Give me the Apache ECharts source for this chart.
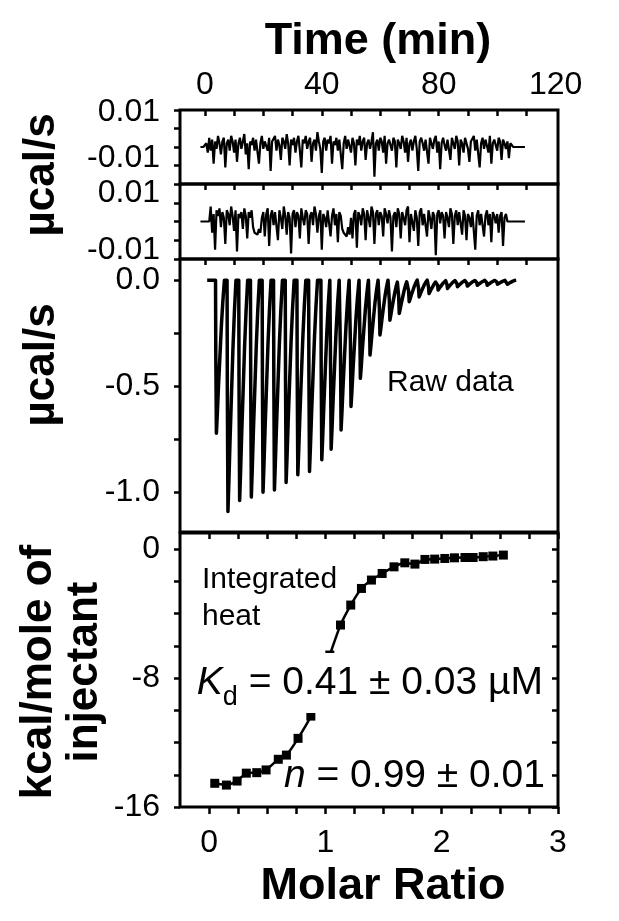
<!DOCTYPE html>
<html><head><meta charset="utf-8">
<script src="https://cdn.jsdelivr.net/npm/echarts@6/dist/echarts.min.js"></script>
<style>html,body{margin:0;padding:0;background:#fff}#c{width:619px;height:921px}</style>
</head><body><div id="c"></div>
<script>
const FONT = '"Liberation Sans", Arial, Helvetica, sans-serif';

// ---------- axis ticks / labels ----------
const timeTicks = [0,10,20,30,40,50,60,70,80,90,100,110];
const timeLabels = [0,40,80,120];
const molarTicks = [0,0.25,0.5,0.75,1,1.25,1.5,1.75,2,2.25,2.5,2.75,3];
const molarLabels = [0,1,2,3];
const noiseTicks = [-0.02,-0.01,0,0.01,0.02];
const noiseLabelUp = [0.01];
const noiseLabelDown = [-0.01];
const rawTicks = [0,-0.25,-0.5,-0.75,-1];
const rawLabels = [0,-0.5,-1];
const heatTicks = [0,-2,-4,-6,-8,-10,-12,-14,-16];
const heatLabels = [0,-8,-16];

// ---------- baseline noise traces (units of 0.001 µcal/s), sampled every NOISE_DT min ----------
const NOISE_T0 = -1.5, NOISE_DT = 0.5;
const noise1 = [
 0,0,0,0,2,-3,5,-2,4,-9,3,-1,
 6,2,-4,3,5,-11,2,4,-2,6,3,-3,
 4,-8,2,5,-1,3,7,-4,2,-12,3,1,
 5,-2,4,3,-9,2,6,-1,3,4,-2,5,
 -13,3,2,6,-2,4,1,-7,5,3,-1,7,
 2,-10,4,1,5,-3,3,6,-2,-11,4,2,
 6,-1,3,5,-8,2,4,-2,8,3,-1,-14,
 3,5,-2,4,2,6,-9,3,1,5,-2,4,
 3,-12,2,6,-1,4,3,-3,5,2,-10,4,
 1,6,-2,3,5,-7,2,4,-1,3,8,-16,
 2,4,-2,5,3,-3,6,-9,2,4,1,-2,
 5,3,-11,4,2,-1,6,3,-3,5,-8,2,
 4,-2,3,6,-1,-13,3,5,2,-2,4,3,
 -9,5,2,-1,4,6,-3,3,-12,2,5,1,
 -2,4,3,-7,5,2,-1,6,3,-10,4,2,
 -3,5,4,-1,-8,3,2,6,-2,4,3,-11,
 2,5,-1,4,3,-3,6,-9,2,4,1,-2,
 5,3,-7,4,2,-1,3,-6,2,3,0,0,
 0,0,0,0,0,0,0
];
const noise2 = [
 0,0,0,0,0,0,0,8,-6,4,-15,6,
 3,7,-3,5,2,-12,6,4,-2,8,3,-5,
 6,-16,4,2,5,-4,7,3,-9,5,2,6,
 -3,-6,-5,-7,-4,-6,2,5,-8,4,7,-13,
 3,6,-2,5,4,-10,6,2,-4,8,3,-7,
 5,2,-17,4,6,-3,5,3,-9,7,2,-2,
 6,4,-12,3,5,-2,8,4,-6,3,6,-15,
 4,2,-3,6,5,-8,3,7,-2,4,-11,5,
 3,-4,-6,-5,-8,-3,-7,2,-9,4,6,-14,
 5,3,-2,7,4,-10,6,2,-3,8,5,-12,
 4,6,-2,5,3,-8,7,4,-1,6,2,-16,
 3,5,-3,7,4,-9,5,2,-2,6,8,-11,
 4,3,-5,6,2,-13,5,7,-2,4,3,-8,
 6,2,-4,5,3,-18,4,6,-1,5,3,-9,
 5,2,-3,7,4,-12,3,6,-2,5,4,-7,
 6,3,-10,4,2,-3,5,4,-15,3,6,-2,
 4,5,-8,3,6,-2,4,-11,5,3,-1,4,
 -6,3,5,-13,2,4,0,0,0,0,0,0,
 0,0,0,0,0,0,0
];

// ---------- raw thermogram: injection times (min) and peak heights (µcal/s) ----------
const RAW_START = 0.8, RAW_END = 106.5;
const injTimes = [3.65,7.6,11.6,15.6,19.6,23.5,27.5,31.5,35.5,39.7,42.9,46.3,49.7,52.9,56.2,59.6,63.0,66.2,69.6,73.0,76.4,79.5,82.7,86.1,89.5,92.9,96.3,99.8,103.2];
const injPeaks = [-0.723,-1.093,-1.041,-1.025,-1.002,-0.991,-0.956,-0.920,-0.904,-0.849,-0.799,-0.708,-0.597,-0.464,-0.354,-0.259,-0.189,-0.157,-0.102,-0.079,-0.063,-0.047,-0.039,-0.031,-0.028,-0.024,-0.024,-0.019,-0.019];
// shape of one injection peak: [minutes after injection, fraction of peak]
const spikeShape = [[0,0],[0.1,0.5],[0.3,1],[0.6,0.88],[1.0,0.7],[1.5,0.5],[2.0,0.3],[2.5,0.14],[2.85,0.05],[3.05,0]];

// ---------- integrated heat ----------
const molarRatio = [0.049,0.149,0.241,0.320,0.410,0.490,0.595,0.665,0.765,0.875,0.955,1.038,1.130,1.218,1.310,1.396,1.488,1.590,1.683,1.770,1.856,1.940,2.027,2.110,2.200,2.270,2.357,2.440,2.530];
const heat = [-14.53,-14.64,-14.39,-13.90,-13.87,-13.70,-13.04,-12.78,-11.74,-10.36,-8.40,-6.57,-4.71,-3.47,-2.44,-1.92,-1.51,-1.10,-0.85,-0.93,-0.64,-0.62,-0.58,-0.54,-0.52,-0.52,-0.47,-0.43,-0.37];

// ---------- build series data ----------
const n1Data = noise1.map((v,i)=>[NOISE_T0 + i*NOISE_DT, v*1e-3]);
const n2Data = noise2.map((v,i)=>[NOISE_T0 + i*NOISE_DT, v*1e-3]);
const rawData = [[RAW_START,0]];
injTimes.forEach((t0,i)=>{ spikeShape.forEach(([dt,f])=>rawData.push([t0+dt, f*injPeaks[i]])); });
rawData.push([RAW_END,0]);
const heatData = molarRatio.map((x,i)=>[x, heat[i]]);

// ---------- layout ----------
const L = 180, W = 378;
const TMIN = -8.5, TMAX = 120.8;
const gridStyle = {show:true, borderColor:'#000', borderWidth:3, backgroundColor:'transparent'};
const tickStyle = {color:'#000', width:2.5};
const lab = {color:'#000', fontFamily:FONT, fontSize:32};
const noLine = {show:false, onZero:false};

function timeAxis(gi, withLabels){
  const a = {type:'value', gridIndex:gi, position:'top', min:TMIN, max:TMAX,
    axisLine:noLine, splitLine:{show:false},
    axisTick:{show:true, inside:true, length:6, lineStyle:tickStyle, customValues:timeTicks},
    axisLabel:{show:withLabels, customValues:timeLabels, margin:9, showMinLabel:true, showMaxLabel:true, ...lab}};
  if (withLabels){
    a.name = 'Time (min)'; a.nameLocation='middle'; a.nameGap = 46;
    a.nameTextStyle = {fontFamily:FONT, fontWeight:'bold', fontSize:45, color:'#000', padding:[0,0,0,18]};
  }
  return a;
}
// noise-panel y axis: one axis carries the ticks and one label, a second carries the other label.
// spacer lines (rich text) move the printed label off its tick as in the original figure
function noiseY(gi, labels, showTicks, spacerH, spacerFirst){
  return {type:'value', gridIndex:gi, position:'left', min:-0.02, max:0.02,
    axisLine:noLine, splitLine:{show:false},
    axisTick:{show:showTicks, inside:false, length:6, lineStyle:tickStyle, customValues:noiseTicks},
    axisLabel:{customValues:labels, margin:20, showMinLabel:true, showMaxLabel:true, ...lab,
      formatter:v=>{ const t='{a|'+v.toFixed(2)+'}'; return spacerFirst ? '{s|\u00a0}\n'+t : t+'\n{s|\u00a0}'; },
      rich:{a:{fontFamily:FONT, fontSize:32, color:'#000', lineHeight:32},
            s:{fontSize:8, lineHeight:spacerH}}}};
}

const option = {
  animation:false,
  backgroundColor:'#fff',
  textStyle:{fontFamily:FONT},
  grid:[
    {left:L, top:110, width:W, height:74, ...gridStyle},
    {left:L, top:184, width:W, height:75, ...gridStyle},
    {left:L, top:259, width:W, height:273, ...gridStyle},
    {left:L, top:533, width:W, height:274, ...gridStyle}
  ],
  xAxis:[
    timeAxis(0,true),
    timeAxis(1,false),
    timeAxis(2,false),
    {type:'value', gridIndex:3, position:'bottom', min:-0.25, max:3,
      axisLine:noLine, splitLine:{show:false},
      axisTick:{show:true, inside:false, length:7, lineStyle:tickStyle, customValues:molarTicks},
      axisLabel:{customValues:molarLabels, margin:20, showMinLabel:true, showMaxLabel:true, ...lab},
      name:'Molar Ratio', nameLocation:'middle', nameGap:57,
      nameTextStyle:{fontFamily:FONT, fontWeight:'bold', fontSize:45, color:'#000', padding:[0,0,0,28]}},
    {type:'value', gridIndex:3, position:'top', min:-0.25, max:3,
      axisLine:noLine, splitLine:{show:false},
      axisTick:{show:true, inside:true, length:6, lineStyle:tickStyle, customValues:molarTicks},
      axisLabel:{show:false}}
  ],
  yAxis:[
    noiseY(0, noiseLabelUp, true, 33, false),
    noiseY(1, noiseLabelUp, true, 20, false),
    {type:'value', gridIndex:2, min:-1.19, max:0.1,
      axisLine:noLine, splitLine:{show:false},
      axisTick:{show:true, inside:false, length:6, lineStyle:tickStyle, customValues:rawTicks},
      axisLabel:{customValues:rawLabels, margin:20, showMinLabel:true, showMaxLabel:true, ...lab, formatter:v=>v.toFixed(1)}},
    {type:'value', gridIndex:3, min:-16, max:1,
      axisLine:noLine, splitLine:{show:false},
      axisTick:{show:true, inside:false, length:6, lineStyle:tickStyle, customValues:heatTicks},
      axisLabel:{customValues:heatLabels, margin:20, showMinLabel:true, showMaxLabel:true, ...lab, formatter:v=>String(v)}},
    {type:'value', gridIndex:3, position:'right', min:-16, max:1,
      axisLine:noLine, splitLine:{show:false},
      axisTick:{show:true, inside:true, length:6, lineStyle:tickStyle, customValues:heatTicks},
      axisLabel:{show:false}},
    noiseY(0, noiseLabelDown, false, 15, false),
    noiseY(1, noiseLabelDown, false, 20, true)
  ],
  series:[
    {type:'line', xAxisIndex:0, yAxisIndex:0, data:n1Data, showSymbol:false, symbol:'none',
      lineStyle:{color:'#000', width:2.2, join:'bevel'}},
    {type:'line', xAxisIndex:1, yAxisIndex:1, data:n2Data, showSymbol:false, symbol:'none',
      lineStyle:{color:'#000', width:2.2, join:'bevel'}},
    {type:'line', xAxisIndex:2, yAxisIndex:2, data:rawData, showSymbol:false, symbol:'none',
      lineStyle:{color:'#000', width:3.5, join:'round'}},
    {type:'line', xAxisIndex:3, yAxisIndex:3, data:heatData, symbol:'rect', symbolSize:9,
      itemStyle:{color:'#000'}, lineStyle:{color:'#000', width:2.5}, smooth:0.2}
  ],
  graphic:[
    {type:'text', x:42, y:175, rotation:Math.PI/2, z:100,
      style:{text:'µcal/s', fontFamily:FONT, fontWeight:'bold', fontSize:44, fill:'#000', align:'center', verticalAlign:'middle'}},
    {type:'text', x:42, y:365, rotation:Math.PI/2, z:100,
      style:{text:'µcal/s', fontFamily:FONT, fontWeight:'bold', fontSize:44, fill:'#000', align:'center', verticalAlign:'middle'}},
    {type:'text', x:62, y:672, rotation:Math.PI/2, z:100,
      style:{text:'kcal/mole of\ninjectant', fontFamily:FONT, fontWeight:'bold', fontSize:44, lineHeight:46, fill:'#000', align:'center', verticalAlign:'middle'}},
    {type:'text', x:387, y:383, z:100,
      style:{text:'Raw data', fontFamily:FONT, fontSize:30, fill:'#000', align:'left', verticalAlign:'middle'}},
    {type:'text', x:202, y:561, z:100,
      style:{text:'Integrated\nheat', fontFamily:FONT, fontSize:30, lineHeight:37, fill:'#000', align:'left', verticalAlign:'top'}},
    {type:'text', x:545, y:683, z:100,
      style:{text:'{k|K}{s|d}{t| = 0.41 ± 0.03 µM}', align:'right', verticalAlign:'middle',
        backgroundColor:'#fff', padding:[2,2,2,4],
        rich:{k:{fontFamily:FONT, fontStyle:'italic', fontSize:39, lineHeight:56, fill:'#000'},
              s:{fontFamily:FONT, fontSize:27, lineHeight:30, verticalAlign:'bottom', fill:'#000'},
              t:{fontFamily:FONT, fontSize:39, lineHeight:56, fill:'#000'}}}},
    {type:'text', x:545, y:776, z:100,
      style:{text:'{n|n}{t| = 0.99 ± 0.01}', align:'right', verticalAlign:'middle',
        rich:{n:{fontFamily:FONT, fontStyle:'italic', fontSize:39, lineHeight:44, fill:'#000'},
              t:{fontFamily:FONT, fontSize:39, lineHeight:44, fill:'#000'}}}}
  ]
};
const chart = echarts.init(document.getElementById('c'), null, {renderer:'canvas'});
chart.setOption(option);
</script>
</body></html>
